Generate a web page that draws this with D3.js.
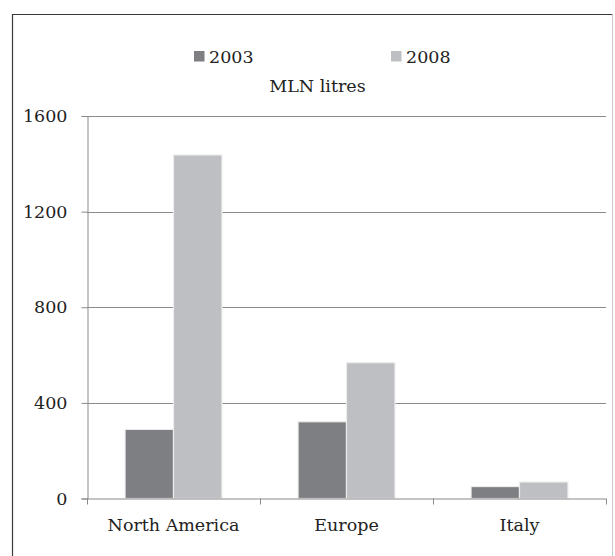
<!DOCTYPE html>
<html><head><meta charset="utf-8">
<script src="https://cdn.jsdelivr.net/npm/d3@7"></script>
<style>
html,body{margin:0;padding:0;background:#fff;}
svg{display:block;font-family:"DejaVu Serif",serif;}
</style></head>
<body>
<svg id="c" width="615" height="556"></svg>
<script>
const categories = ["North America", "Europe", "Italy"];
const seriesNames = ["2003", "2008"];
const values2003 = [289, 321, 50];
const values2008 = [1437, 568, 69];
const yTicks = [0, 400, 800, 1200, 1600];
const colors = ["#7e7f83", "#bebfc3"];
const unitLabel = "MLN litres";

const svg = d3.select("#c");
const M = {left: 87, right: 606, top: 116, bottom: 498.5};

// frame
svg.append("path").attr("d", "M12.5,560 V14.5 H612.5").attr("fill","none").attr("stroke","#3a3a3a").attr("stroke-width",1.2);
svg.append("path").attr("d", "M612.5,14.5 V560").attr("fill","none").attr("stroke","#c8c8c8").attr("stroke-width",1);

const y = d3.scaleLinear().domain([0,1600]).range([M.bottom, M.top]);
const x0 = d3.scaleBand().domain(categories).range([M.left, M.right]).paddingInner(0.44).paddingOuter(0.22);
const x1 = d3.scaleBand().domain(seriesNames).range([0, x0.bandwidth()]).padding(0);

// gridlines
svg.append("g").selectAll("line").data(yTicks.filter(d=>d>0)).join("line")
  .attr("x1", M.left).attr("x2", M.right)
  .attr("y1", d=>Math.round(y(d))+0.5).attr("y2", d=>Math.round(y(d))+0.5)
  .attr("stroke","#8a8a8a").attr("stroke-width",1);

// y axis
const ya = svg.append("g").attr("transform", `translate(${M.left+0.5},0)`)
  .call(d3.axisLeft(y).tickValues(yTicks).tickSize(6).tickPadding(14).tickFormat(d3.format("d")));
ya.select(".domain").attr("stroke","#8a8a8a");
ya.selectAll(".tick line").attr("stroke","#8a8a8a");
ya.selectAll("text").attr("font-family","DejaVu Serif").attr("font-size",17.5).attr("fill","#222");

// bars
const data = categories.map((c,i)=>({cat:c, vals:[values2003[i], values2008[i]]}));
const g = svg.append("g").selectAll("g").data(data).join("g")
  .attr("transform", d=>`translate(${x0(d.cat)},0)`);
g.selectAll("rect").data(d=>d.vals.map((v,j)=>({s:seriesNames[j], v, j}))).join("rect")
  .attr("x", d=>x1(d.s)).attr("width", x1.bandwidth())
  .attr("y", d=>y(d.v)).attr("height", d=>y(0)-y(d.v))
  .attr("fill", d=>colors[d.j]).attr("stroke","#ececec").attr("stroke-width",1.2);

// x axis line & boundary ticks
const step = x0.step();
const bounds = d3.range(categories.length+1).map(i=>M.left + i*step);
svg.append("line").attr("x1",M.left).attr("x2",M.right).attr("y1",M.bottom+0.5).attr("y2",M.bottom+0.5)
  .attr("stroke","#8a8a8a").attr("stroke-width",1.2);
svg.append("g").selectAll("line").data(bounds).join("line")
  .attr("x1",d=>Math.round(d)+0.5).attr("x2",d=>Math.round(d)+0.5)
  .attr("y1",M.bottom).attr("y2",M.bottom+6).attr("stroke","#8a8a8a");

const xa = svg.append("g").attr("transform",`translate(0,${M.bottom})`)
  .call(d3.axisBottom(x0).tickSize(0).tickPadding(20));
xa.select(".domain").remove();
xa.selectAll("text").attr("font-family","DejaVu Serif").attr("font-size",17.5).attr("fill","#222");

// legend
const legX = [194, 391];
const leg = svg.append("g").selectAll("g").data(seriesNames).join("g")
  .attr("transform",(d,i)=>`translate(${legX[i]},51)`);
leg.append("rect").attr("width",10.5).attr("height",10.5).attr("fill",(d,i)=>colors[i]);
leg.append("text").attr("x",15).attr("y",12).text(d=>d)
  .attr("font-size",17.5).attr("fill","#222");

svg.append("text").attr("x",317.5).attr("y",92).attr("text-anchor","middle")
  .attr("font-size",17.5).attr("fill","#222").text(unitLabel);
</script>
</body></html>
